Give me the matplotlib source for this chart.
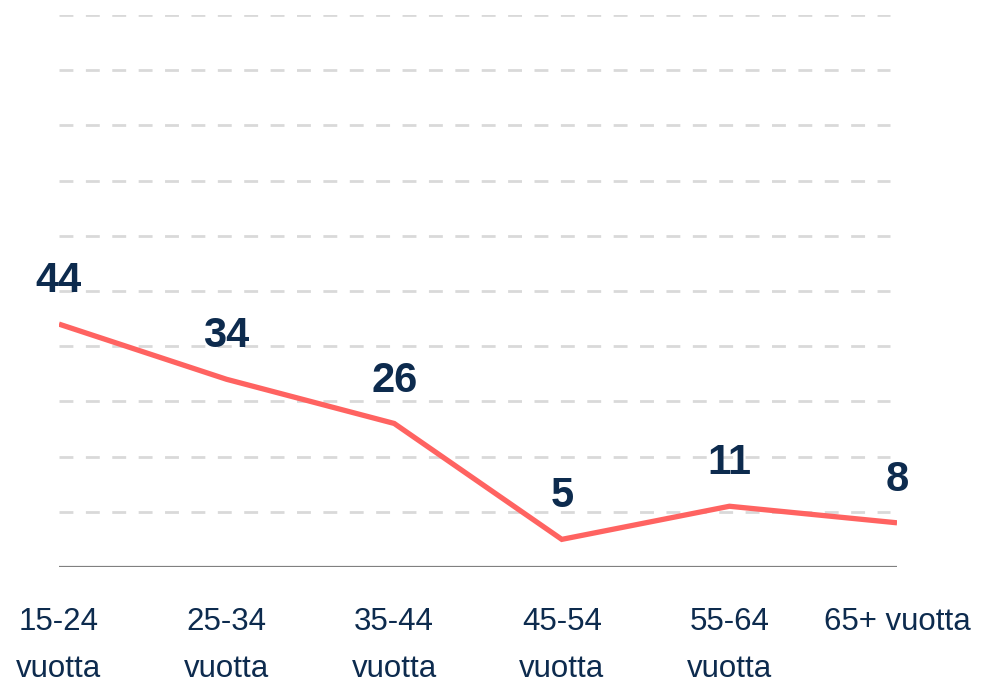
import matplotlib
matplotlib.use("Agg")
import matplotlib.pyplot as plt

# age groups and share (%)
categories = ["15-24\nvuotta", "25-34\nvuotta", "35-44\nvuotta",
              "45-54\nvuotta", "55-64\nvuotta", "65+ vuotta"]
values = [44, 34, 26, 5, 11, 8]
grid_levels = [10, 20, 30, 40, 50, 60, 70, 80, 90, 100]

NAVY = "#0d2b4e"
LINE = "#ff6361"

plt.rcParams["font.family"] = ["Liberation Sans", "DejaVu Sans"]

fig = plt.figure(figsize=(9.81, 6.91), dpi=100)
ax = fig.add_axes([0.0601, 0.1795, 0.8543, 0.7988])

x = list(range(len(values)))

# dashed horizontal grid
for g in grid_levels:
    ax.axhline(g, xmin=0, xmax=0.992, color="#d9d9d9", lw=2,
               dashes=(5, 4.5), zorder=1)
ax.axhline(0, color="#808080", lw=1.6, zorder=2)

ax.plot(x, values, color=LINE, lw=3.8, solid_capstyle="butt",
        solid_joinstyle="miter", zorder=3)

# value labels
for xi, v in zip(x, values):
    ax.annotate(str(v), (xi, v), xytext=(0, 23), textcoords="offset points",
                ha="center", va="baseline", fontsize=30, fontweight="bold",
                color=NAVY, zorder=4)

ax.set_xlim(0, len(values) - 1)
ax.set_ylim(0, 100)
ax.set_xticks(x)
ax.set_xticklabels(categories, fontsize=22.5, color=NAVY, linespacing=1.75)
ax.tick_params(axis="x", length=0, pad=29)
ax.set_yticks([])
for s in ax.spines.values():
    s.set_visible(False)

fig.savefig("out.png", dpi=100, facecolor="white")
